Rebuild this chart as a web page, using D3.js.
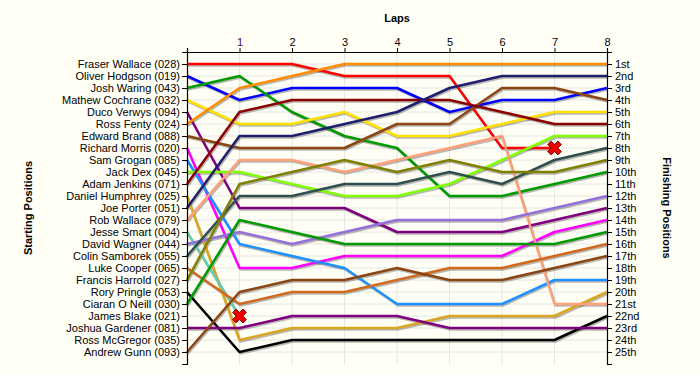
<!DOCTYPE html>
<html>
<head>
<meta charset="utf-8">
<script src="https://cdn.jsdelivr.net/npm/d3@7"></script>
<style>
  body { margin: 0; background: #fffff5; }
  svg { display: block; font-family: Arial, "Liberation Sans", sans-serif; }
  .grid line { stroke: #e6e6e6; stroke-width: 1; }
  .axis path, .axis line { stroke: #000; }
  .axis text { font-size: 11px; fill: #000; }
</style>
</head>
<body>
<div id="chart"></div>
<script>
// starting grid, in order of starting position
var drivers = [
  "Fraser Wallace (028)", "Oliver Hodgson (019)", "Josh Waring (043)", "Mathew Cochrane (032)",
  "Duco Verwys (094)", "Ross Fenty (024)", "Edward Brand (088)", "Richard Morris (020)",
  "Sam Grogan (085)", "Jack Dex (045)", "Adam Jenkins (071)", "Daniel Humphrey (025)",
  "Joe Porter (051)", "Rob Wallace (079)", "Jesse Smart (004)", "David Wagner (044)",
  "Colin Samborek (055)", "Luke Cooper (065)", "Francis Harrold (027)", "Rory Pringle (053)",
  "Ciaran O Neill (030)", "James Blake (021)", "Joshua Gardener (081)", "Ross McGregor (035)",
  "Andrew Gunn (093)"
];

var finishLabels = [
  "1st", "2nd", "3rd", "4th", "5th", "6th", "7th", "8th", "9th", "10th", "11th", "12th", "13th",
  "14th", "15th", "16th", "17th", "18th", "19th", "20th", "21st", "22nd", "23rd", "24th", "25th"
];

var laps = [0, 1, 2, 3, 4, 5, 6, 7, 8];

// position at lap 0..8 for each driver (same order as drivers), shorter = retired
var lapPositions = [
  [1, 1, 1, 2, 2, 2, 8, 8],
  [2, 4, 3, 3, 3, 5, 4, 4, 3],
  [3, 2, 5, 7, 8, 12, 12, 11, 10],
  [4, 6, 6, 5, 7, 7, 6, 5, 5],
  [5, 13, 13, 13, 15, 15, 15, 14, 13],
  [6, 3, 2, 1, 1, 1, 1, 1, 1],
  [7, 8, 8, 8, 6, 6, 3, 3, 4],
  [8, 18, 18, 17, 17, 17, 17, 15, 14],
  [9, 16, 17, 18, 21, 21, 21, 19, 19],
  [10, 10, 11, 12, 12, 11, 9, 7, 7],
  [11, 5, 4, 4, 4, 4, 5, 6, 6],
  [12, 24, 23, 23, 23, 22, 22, 22, 20],
  [13, 7, 7, 6, 5, 3, 2, 2, 2],
  [14, 9, 9, 10, 9, 8, 7, 21, 21],
  [15, 22],
  [16, 15, 16, 15, 14, 14, 14, 13, 12],
  [17, 12, 12, 11, 11, 10, 11, 9, 8],
  [18, 21, 20, 20, 19, 18, 18, 17, 16],
  [19, 11, 10, 9, 10, 9, 10, 10, 9],
  [20, 25, 24, 24, 24, 24, 24, 24, 22],
  [21, 14, 15, 16, 16, 16, 16, 16, 15],
  [],
  [23, 23, 22, 22, 22, 23, 23, 23, 23],
  [],
  [25, 20, 19, 19, 18, 19, 19, 18, 17]
];

var colors = [
  "#ff0000", "#0000ff", "#009a00", "#ffe000", "#800080", "#ff8c00", "#8b4513", "#ff00ff",
  "#1e90ff", "#7fff00", "#8b0000", "#daa520", "#1f1f6e", "#ffa07a", "#66cdaa", "#9370db",
  "#2f4f4f", "#d2691e", "#808000", "#000000", "#009a00", "#999999", "#800080", "#999999",
  "#8b4513"
];

var W = 700, H = 375;
var margin = { left: 187, right: 93, top: 52, bottom: 11 };

var svg = d3.select("#chart").append("svg")
  .attr("width", W)
  .attr("height", H);

var x = d3.scaleLinear().domain([0, 8]).range([margin.left, W - margin.right]);
var y = d3.scaleLinear().domain([0, 26]).range([margin.top, H - margin.bottom]);

// grid
var grid = svg.append("g").attr("class", "grid");
grid.selectAll(".h").data(d3.range(1, 26)).enter().append("line")
  .attr("x1", x(0)).attr("x2", x(8))
  .attr("y1", function (d) { return y(d); }).attr("y2", function (d) { return y(d); });
grid.selectAll(".v").data(laps.slice(1, 8)).enter().append("line")
  .attr("x1", function (d) { return x(d); }).attr("x2", function (d) { return x(d); })
  .attr("y1", y(0)).attr("y2", y(26));

var line = d3.line()
  .x(function (d, i) { return x(laps[i]); })
  .y(function (d) { return y(d); });

var series = lapPositions.map(function (p, i) { return { pos: p, color: colors[i] }; })
  .filter(function (s) { return s.pos.length > 0; });

// shadows
svg.append("g").attr("transform", "translate(1,1.5)")
  .selectAll("path").data(series).enter().append("path")
  .attr("d", function (s) { return line(s.pos); })
  .attr("fill", "none")
  .attr("stroke", "rgba(0,0,0,0.28)")
  .attr("stroke-width", 2.5)
  .attr("stroke-linejoin", "round");

svg.append("g")
  .selectAll("path").data(series).enter().append("path")
  .attr("d", function (s) { return line(s.pos); })
  .attr("fill", "none")
  .attr("stroke", function (s) { return s.color; })
  .attr("stroke-width", 2.5)
  .attr("stroke-linejoin", "round");

// retirement markers
var retired = series.filter(function (s) { return s.pos.length < laps.length; });
svg.append("g").selectAll("path").data(retired).enter().append("path")
  .attr("d", d3.symbol().type(d3.symbolCross).size(120))
  .attr("transform", function (s) {
    var n = s.pos.length - 1;
    return "translate(" + x(laps[n]) + "," + y(s.pos[n]) + ") rotate(45)";
  })
  .attr("fill", "#ee0000")
  .attr("stroke", "#700000")
  .attr("stroke-width", 0.8);

// axes
svg.append("g").attr("class", "axis")
  .attr("transform", "translate(" + x(0) + ",0)")
  .call(d3.axisLeft(y).tickValues(d3.range(1, 26)).tickSize(5).tickPadding(2)
    .tickFormat(function (d) { return drivers[d - 1]; }));

svg.append("g").attr("class", "axis")
  .attr("transform", "translate(" + x(8) + ",0)")
  .call(d3.axisRight(y).tickValues(d3.range(1, 26)).tickSize(5).tickPadding(3)
    .tickFormat(function (d) { return finishLabels[d - 1]; }));

var lapAxis = svg.append("g").attr("class", "axis")
  .attr("transform", "translate(0," + y(0) + ")")
  .call(d3.axisTop(x).tickValues(laps).tickSize(4).tickPadding(2)
    .tickFormat(function (d) { return d === 0 ? "" : d; }));
lapAxis.selectAll(".tick text").filter(function (d) { return d === 1; }).style("fill", "#4b0050");

svg.selectAll(".axis .domain").attr("stroke-width", 1.2);

// titles
svg.append("text")
  .attr("x", (x(0) + x(8)) / 2).attr("y", 22)
  .attr("text-anchor", "middle")
  .style("font-size", "11px").style("font-weight", "bold")
  .text("Laps");

svg.append("text")
  .attr("transform", "translate(32,208) rotate(-90)")
  .attr("text-anchor", "middle")
  .style("font-size", "11px").style("font-weight", "bold")
  .text("Starting Positions");

svg.append("text")
  .attr("transform", "translate(663,208) rotate(90)")
  .attr("text-anchor", "middle")
  .style("font-size", "11px").style("font-weight", "bold")
  .text("Finishing Positions");
</script>
</body>
</html>
